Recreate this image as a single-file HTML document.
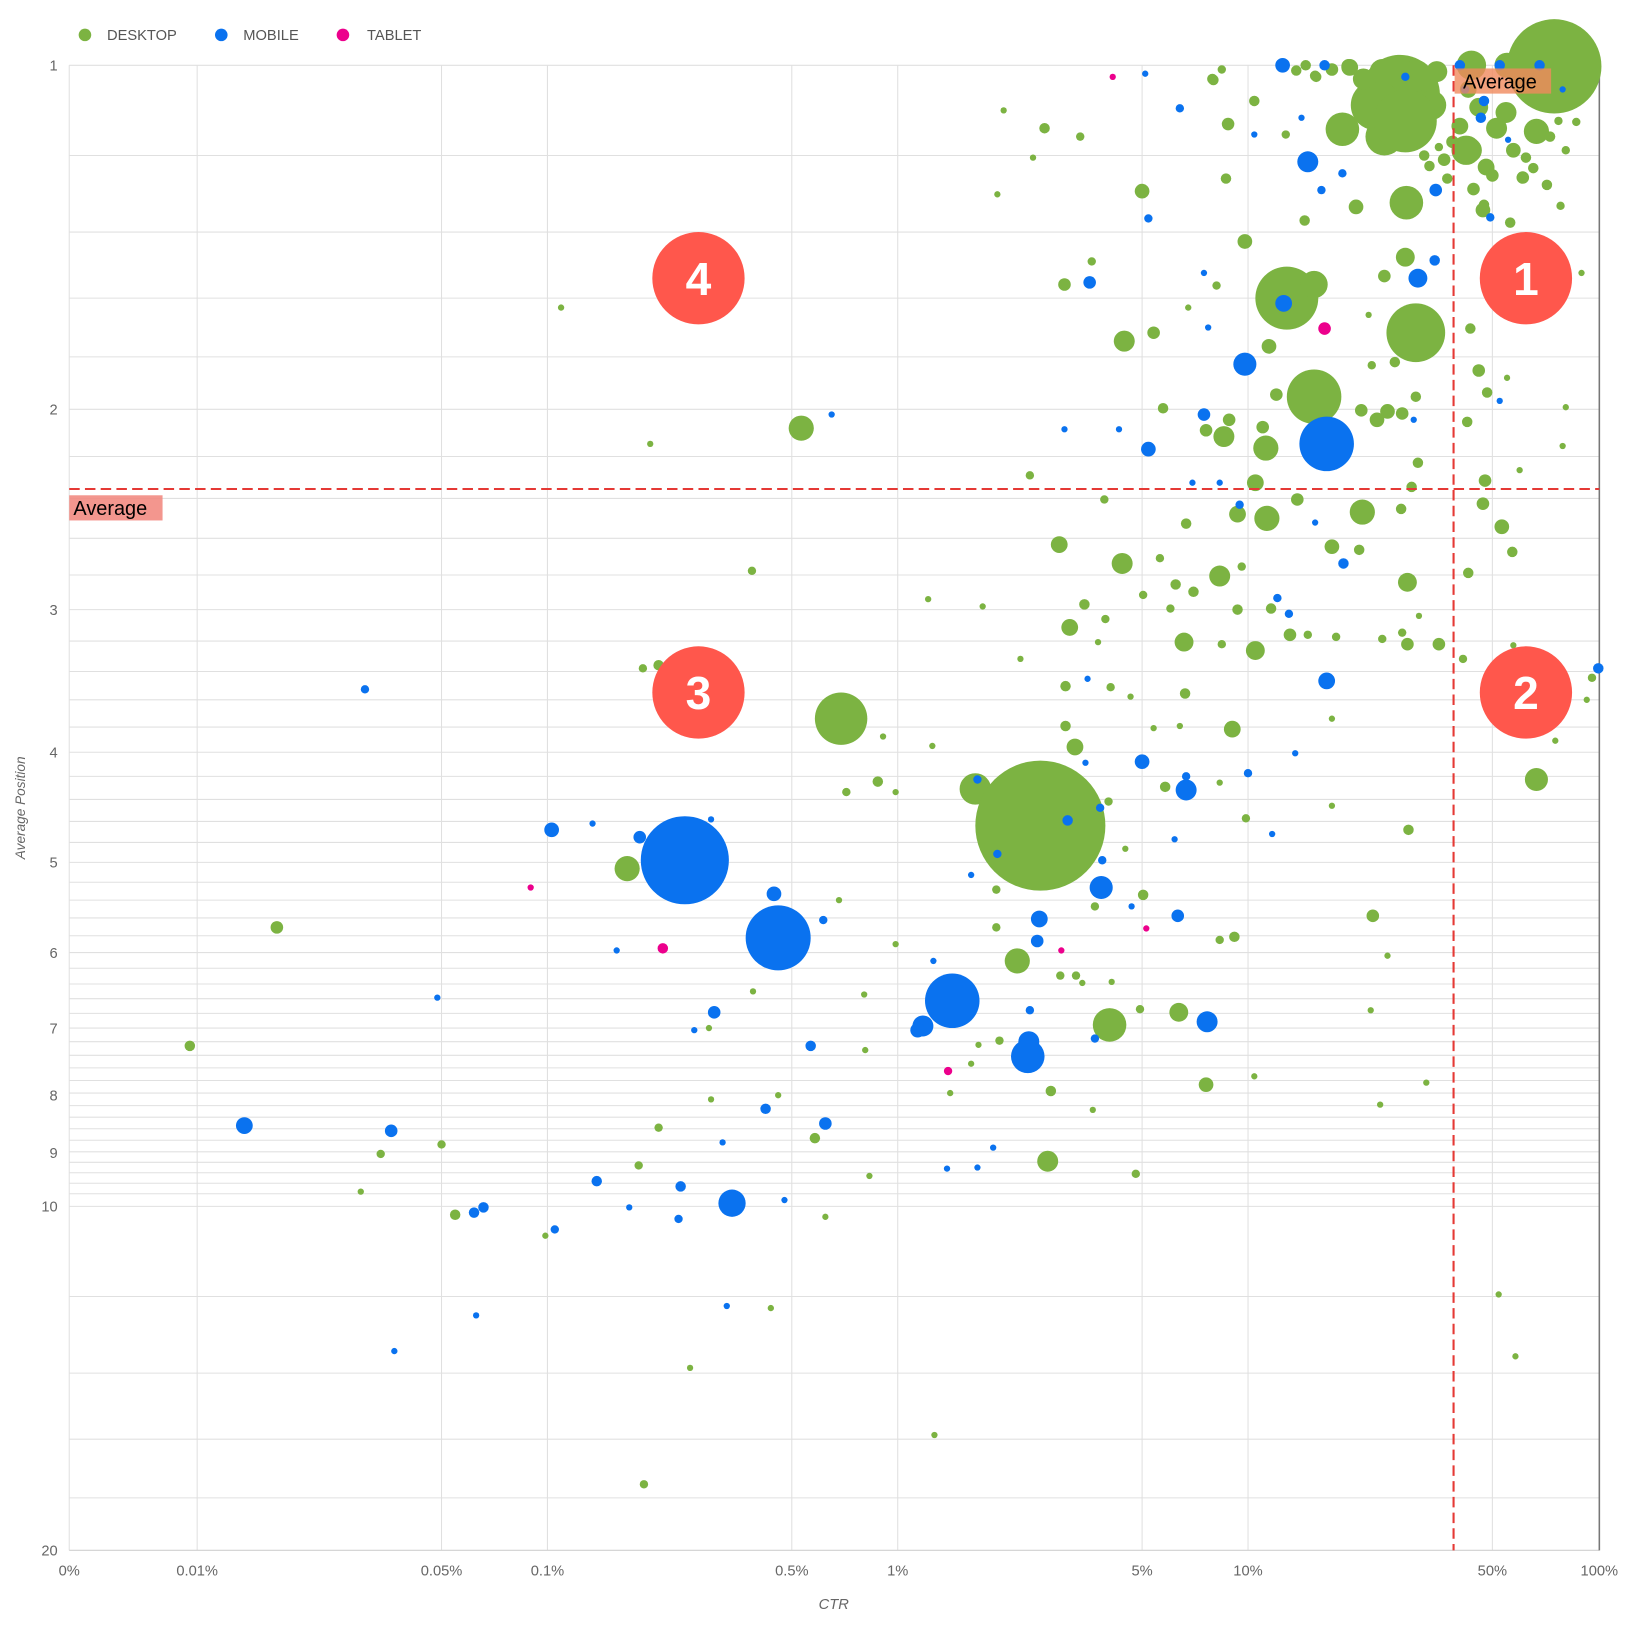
<!DOCTYPE html>
<html><head><meta charset="utf-8"><style>
html,body{margin:0;padding:0;background:#fff;}
svg{display:block;font-family:"Liberation Sans",sans-serif;}
</style></head><body>
<svg width="1635" height="1645" viewBox="0 0 1559 1568" xmlns="http://www.w3.org/2000/svg">
<rect width="1559" height="1568" fill="#fff"/>
<g stroke="#e0e0e0" stroke-width="1">
<line x1="188" y1="62" x2="188" y2="1478"/><line x1="421" y1="62" x2="421" y2="1478"/><line x1="522" y1="62" x2="522" y2="1478"/><line x1="755" y1="62" x2="755" y2="1478"/><line x1="856" y1="62" x2="856" y2="1478"/><line x1="1089" y1="62" x2="1089" y2="1478"/><line x1="1190" y1="62" x2="1190" y2="1478"/><line x1="1423" y1="62" x2="1423" y2="1478"/>
<line x1="66" y1="62" x2="66" y2="1478"/>
<line x1="66" y1="62" x2="1525" y2="62"/><line x1="66" y1="148" x2="1525" y2="148"/><line x1="66" y1="221" x2="1525" y2="221"/><line x1="66" y1="284" x2="1525" y2="284"/><line x1="66" y1="340" x2="1525" y2="340"/><line x1="66" y1="390" x2="1525" y2="390"/><line x1="66" y1="435" x2="1525" y2="435"/><line x1="66" y1="475" x2="1525" y2="475"/><line x1="66" y1="513" x2="1525" y2="513"/><line x1="66" y1="548" x2="1525" y2="548"/><line x1="66" y1="581" x2="1525" y2="581"/><line x1="66" y1="611" x2="1525" y2="611"/><line x1="66" y1="640" x2="1525" y2="640"/><line x1="66" y1="667" x2="1525" y2="667"/><line x1="66" y1="693" x2="1525" y2="693"/><line x1="66" y1="717" x2="1525" y2="717"/><line x1="66" y1="740" x2="1525" y2="740"/><line x1="66" y1="762" x2="1525" y2="762"/><line x1="66" y1="783" x2="1525" y2="783"/><line x1="66" y1="803" x2="1525" y2="803"/><line x1="66" y1="822" x2="1525" y2="822"/><line x1="66" y1="841" x2="1525" y2="841"/><line x1="66" y1="858" x2="1525" y2="858"/><line x1="66" y1="875" x2="1525" y2="875"/><line x1="66" y1="892" x2="1525" y2="892"/><line x1="66" y1="908" x2="1525" y2="908"/><line x1="66" y1="923" x2="1525" y2="923"/><line x1="66" y1="938" x2="1525" y2="938"/><line x1="66" y1="952" x2="1525" y2="952"/><line x1="66" y1="966" x2="1525" y2="966"/><line x1="66" y1="980" x2="1525" y2="980"/><line x1="66" y1="993" x2="1525" y2="993"/><line x1="66" y1="1006" x2="1525" y2="1006"/><line x1="66" y1="1018" x2="1525" y2="1018"/><line x1="66" y1="1030" x2="1525" y2="1030"/><line x1="66" y1="1042" x2="1525" y2="1042"/><line x1="66" y1="1054" x2="1525" y2="1054"/><line x1="66" y1="1065" x2="1525" y2="1065"/><line x1="66" y1="1076" x2="1525" y2="1076"/><line x1="66" y1="1087" x2="1525" y2="1087"/><line x1="66" y1="1098" x2="1525" y2="1098"/><line x1="66" y1="1108" x2="1525" y2="1108"/><line x1="66" y1="1118" x2="1525" y2="1118"/><line x1="66" y1="1128" x2="1525" y2="1128"/><line x1="66" y1="1138" x2="1525" y2="1138"/><line x1="66" y1="1150" x2="1525" y2="1150"/><line x1="66" y1="1236" x2="1525" y2="1236"/><line x1="66" y1="1309" x2="1525" y2="1309"/><line x1="66" y1="1372" x2="1525" y2="1372"/><line x1="66" y1="1428" x2="1525" y2="1428"/>
<line x1="66" y1="1478" x2="1525" y2="1478" stroke="#d0d0d0"/>
</g>
<line x1="1525" y1="62" x2="1525" y2="1478" stroke="#777" stroke-width="1.5"/>
<circle cx="81" cy="33" r="6" fill="#7cb342"/><text x="102" y="38" font-size="14" fill="#555">DESKTOP</text>
<circle cx="211" cy="33" r="6" fill="#0a72ef"/><text x="232" y="38" font-size="14" fill="#555">MOBILE</text>
<circle cx="327" cy="33" r="6" fill="#ec008c"/><text x="350" y="38" font-size="14" fill="#555">TABLET</text>
<g font-size="14" fill="#666" text-anchor="end">
<text x="55" y="67">1</text><text x="55" y="395">2</text><text x="55" y="586">3</text><text x="55" y="722">4</text><text x="55" y="827">5</text><text x="55" y="913">6</text><text x="55" y="985">7</text><text x="55" y="1049">8</text><text x="55" y="1104">9</text><text x="55" y="1155">10</text><text x="55" y="1483">20</text>
</g>
<g font-size="14" fill="#666" text-anchor="middle">
<text x="66" y="1502">0%</text><text x="188" y="1502">0.01%</text><text x="421" y="1502">0.05%</text><text x="522" y="1502">0.1%</text><text x="755" y="1502">0.5%</text><text x="856" y="1502">1%</text><text x="1089" y="1502">5%</text><text x="1190" y="1502">10%</text><text x="1423" y="1502">50%</text><text x="1525" y="1502">100%</text>
</g>
<text x="795" y="1534" font-size="14" font-style="italic" fill="#666" text-anchor="middle">CTR</text>
<text transform="translate(24,770) rotate(-90)" font-size="13" font-style="italic" fill="#666" text-anchor="middle">Average Position</text>
<g fill="#7cb342">
<circle cx="1482" cy="63" r="45"/><circle cx="1335" cy="90" r="38"/><circle cx="1350" cy="72" r="15"/><circle cx="1320" cy="130" r="18"/><circle cx="1348" cy="125" r="17"/><circle cx="1312" cy="100" r="24"/><circle cx="1365" cy="100" r="14"/><circle cx="1300" cy="75" r="10"/><circle cx="1340" cy="115" r="30"/><circle cx="1318" cy="68" r="12"/><circle cx="1370" cy="68" r="10"/>
<circle cx="1403" cy="62" r="14"/><circle cx="1437" cy="62" r="12"/><circle cx="1465" cy="125" r="12"/><circle cx="1280" cy="123" r="16"/><circle cx="1341" cy="193" r="16"/><circle cx="1398" cy="143" r="14"/><circle cx="1427" cy="122" r="10"/><circle cx="1410" cy="102" r="9"/><circle cx="1443" cy="143" r="7"/><circle cx="1418" cy="160" r="7"/><circle cx="1392" cy="120" r="8"/>
<circle cx="1436" cy="107" r="10"/><circle cx="1401" cy="143" r="12"/><circle cx="1452" cy="169" r="6"/><circle cx="1414" cy="200" r="7"/><circle cx="1417" cy="159" r="8"/><circle cx="1236" cy="67" r="5"/><circle cx="1255" cy="73" r="5"/><circle cx="1287" cy="64" r="8"/><circle cx="1157" cy="76" r="5"/><circle cx="1165" cy="66" r="4"/><circle cx="1245" cy="62" r="5"/><circle cx="1400" cy="85" r="8"/><circle cx="1385" cy="135" r="6"/><circle cx="1478" cy="130" r="5"/><circle cx="1455" cy="150" r="5"/><circle cx="1486" cy="115" r="4"/><circle cx="1470" cy="90" r="6"/><circle cx="1358" cy="148" r="5"/><circle cx="1372" cy="140" r="4"/>
<circle cx="1227" cy="284" r="30"/><circle cx="1253" cy="271" r="13"/><circle cx="1350" cy="317" r="28"/><circle cx="1253" cy="378" r="26"/><circle cx="1207" cy="427" r="12"/><circle cx="1167" cy="416" r="10"/><circle cx="1208" cy="494" r="12"/><circle cx="1299" cy="488" r="12"/><circle cx="1342" cy="555" r="9"/><circle cx="1163" cy="549" r="10"/><circle cx="1129" cy="612" r="9"/><circle cx="1197" cy="620" r="9"/>
<circle cx="1070" cy="537" r="10"/><circle cx="1072" cy="325" r="10"/><circle cx="1089" cy="182" r="7"/><circle cx="1187" cy="230" r="7"/><circle cx="1015" cy="271" r="6"/><circle cx="764" cy="408" r="12"/><circle cx="1010" cy="519" r="8"/><circle cx="1020" cy="598" r="8"/><circle cx="1025" cy="712" r="8"/><circle cx="1175" cy="695" r="8"/><circle cx="1465" cy="743" r="11"/><circle cx="1343" cy="791" r="5"/><circle cx="930" cy="752" r="15"/><circle cx="992" cy="787" r="62"/><circle cx="598" cy="828" r="12"/><circle cx="802" cy="685" r="25"/><circle cx="970" cy="916" r="12"/><circle cx="1058" cy="977" r="16"/><circle cx="1124" cy="965" r="9"/><circle cx="999" cy="1107" r="10"/><circle cx="1150" cy="1034" r="7"/><circle cx="1309" cy="873" r="6"/><circle cx="1342" cy="614" r="6"/>
<circle cx="1340" cy="245" r="9"/><circle cx="1320" cy="263" r="6"/><circle cx="1293" cy="197" r="7"/><circle cx="1244" cy="210" r="5"/><circle cx="1210" cy="330" r="7"/><circle cx="1217" cy="376" r="6"/><circle cx="1204" cy="407" r="6"/><circle cx="1172" cy="400" r="6"/><circle cx="1150" cy="410" r="6"/><circle cx="1197" cy="460" r="8"/><circle cx="1180" cy="490" r="8"/><circle cx="1237" cy="476" r="6"/><circle cx="1270" cy="521" r="7"/><circle cx="1296" cy="524" r="5"/><circle cx="1313" cy="400" r="7"/><circle cx="1323" cy="392" r="7"/><circle cx="1337" cy="394" r="6"/><circle cx="1350" cy="378" r="5"/><circle cx="1298" cy="391" r="6"/><circle cx="1109" cy="389" r="5"/><circle cx="1100" cy="317" r="6"/><circle cx="1041" cy="249" r="4"/><circle cx="1169" cy="170" r="5"/><circle cx="1171" cy="118" r="6"/><circle cx="1196" cy="96" r="5"/><circle cx="1226" cy="128" r="4"/><circle cx="1254" cy="72" r="5"/><circle cx="1270" cy="66" r="6"/><circle cx="1286" cy="63" r="7"/><circle cx="1156" cy="75" r="5"/><circle cx="1133" cy="293" r="3"/><circle cx="1160" cy="272" r="4"/><circle cx="1131" cy="499" r="5"/><circle cx="1138" cy="564" r="5"/><circle cx="1180" cy="581" r="5"/><circle cx="1184" cy="540" r="4"/><circle cx="1130" cy="661" r="5"/><circle cx="1165" cy="614" r="4"/><circle cx="1212" cy="580" r="5"/><circle cx="1230" cy="605" r="6"/><circle cx="1247" cy="605" r="4"/><circle cx="1274" cy="607" r="4"/><circle cx="1318" cy="609" r="4"/><circle cx="1337" cy="603" r="4"/><circle cx="1372" cy="614" r="6"/><circle cx="1353" cy="587" r="3"/><circle cx="1402" cy="313" r="5"/><circle cx="1410" cy="353" r="6"/><circle cx="1418" cy="374" r="5"/><circle cx="1399" cy="402" r="5"/><circle cx="1416" cy="458" r="6"/><circle cx="1414" cy="480" r="6"/><circle cx="1432" cy="502" r="7"/><circle cx="1442" cy="526" r="5"/><circle cx="1400" cy="546" r="5"/><circle cx="1395" cy="628" r="4"/><circle cx="1352" cy="441" r="5"/><circle cx="1336" cy="485" r="5"/><circle cx="1346" cy="464" r="5"/><circle cx="1330" cy="345" r="5"/><circle cx="1308" cy="348" r="4"/><circle cx="1305" cy="300" r="3"/><circle cx="1377" cy="152" r="6"/><circle cx="1363" cy="158" r="5"/><circle cx="1380" cy="170" r="5"/><circle cx="1405" cy="180" r="6"/><circle cx="1423" cy="167" r="6"/><circle cx="1462" cy="160" r="5"/><circle cx="1475" cy="176" r="5"/><circle cx="1488" cy="196" r="4"/><circle cx="1440" cy="212" r="5"/><circle cx="1415" cy="195" r="5"/><circle cx="1503" cy="116" r="4"/><circle cx="1493" cy="143" r="4"/><circle cx="1508" cy="260" r="3"/><circle cx="1437" cy="360" r="3"/><circle cx="1493" cy="388" r="3"/><circle cx="1490" cy="425" r="3"/><circle cx="1449" cy="448" r="3"/><circle cx="1443" cy="615" r="3"/><circle cx="1270" cy="685" r="3"/><circle cx="1270" cy="768" r="3"/><circle cx="1188" cy="780" r="4"/><circle cx="1163" cy="746" r="3"/><circle cx="1111" cy="750" r="5"/><circle cx="1057" cy="764" r="4"/><circle cx="1073" cy="809" r="3"/><circle cx="1090" cy="853" r="5"/><circle cx="1044" cy="864" r="4"/><circle cx="1087" cy="962" r="4"/><circle cx="1177" cy="893" r="5"/><circle cx="1163" cy="896" r="4"/><circle cx="1323" cy="911" r="3"/><circle cx="1307" cy="963" r="3"/>
<circle cx="535" cy="293" r="3"/><circle cx="620" cy="423" r="3"/><circle cx="717" cy="544" r="4"/><circle cx="264" cy="884" r="6"/><circle cx="181" cy="997" r="5"/><circle cx="363" cy="1100" r="4"/><circle cx="344" cy="1136" r="3"/><circle cx="421" cy="1091" r="4"/><circle cx="434" cy="1158" r="5"/><circle cx="520" cy="1178" r="3"/><circle cx="609" cy="1111" r="4"/><circle cx="628" cy="1075" r="4"/><circle cx="678" cy="1048" r="3"/><circle cx="676" cy="980" r="3"/><circle cx="658" cy="1304" r="3"/><circle cx="614" cy="1415" r="4"/><circle cx="891" cy="1368" r="3"/><circle cx="735" cy="1247" r="3"/><circle cx="787" cy="1160" r="3"/><circle cx="829" cy="1121" r="3"/><circle cx="777" cy="1085" r="5"/><circle cx="742" cy="1044" r="3"/><circle cx="718" cy="945" r="3"/><circle cx="824" cy="948" r="3"/><circle cx="825" cy="1001" r="3"/><circle cx="807" cy="755" r="4"/><circle cx="837" cy="745" r="5"/><circle cx="854" cy="755" r="3"/><circle cx="842" cy="702" r="3"/><circle cx="889" cy="711" r="3"/><circle cx="885" cy="571" r="3"/><circle cx="937" cy="578" r="3"/><circle cx="973" cy="628" r="3"/><circle cx="982" cy="453" r="4"/><circle cx="985" cy="150" r="3"/><circle cx="951" cy="185" r="3"/><circle cx="957" cy="105" r="3"/><circle cx="996" cy="122" r="5"/><circle cx="1030" cy="130" r="4"/><circle cx="1429" cy="1234" r="3"/><circle cx="1445" cy="1293" r="3"/><circle cx="1513" cy="667" r="3"/><circle cx="1518" cy="646" r="4"/><circle cx="1483" cy="706" r="3"/><circle cx="1360" cy="1032" r="3"/><circle cx="1316" cy="1053" r="3"/><circle cx="1196" cy="1026" r="3"/><circle cx="1083" cy="1119" r="4"/><circle cx="1042" cy="1058" r="3"/><circle cx="1002" cy="1040" r="5"/><circle cx="926" cy="1014" r="3"/><circle cx="906" cy="1042" r="3"/><circle cx="613" cy="637" r="4"/><circle cx="628" cy="634" r="5"/><circle cx="800" cy="858" r="3"/><circle cx="854" cy="900" r="3"/><circle cx="950" cy="884" r="4"/><circle cx="950" cy="848" r="4"/><circle cx="953" cy="992" r="4"/><circle cx="933" cy="996" r="3"/><circle cx="1011" cy="930" r="4"/><circle cx="1026" cy="930" r="4"/><circle cx="1032" cy="937" r="3"/><circle cx="1060" cy="936" r="3"/><circle cx="1016" cy="654" r="5"/><circle cx="1016" cy="692" r="5"/><circle cx="1034" cy="576" r="5"/><circle cx="1054" cy="590" r="4"/><circle cx="1047" cy="612" r="3"/><circle cx="1059" cy="655" r="4"/><circle cx="1078" cy="664" r="3"/><circle cx="1100" cy="694" r="3"/><circle cx="1125" cy="692" r="3"/><circle cx="1106" cy="532" r="4"/><circle cx="1053" cy="476" r="4"/><circle cx="1121" cy="557" r="5"/><circle cx="1090" cy="567" r="4"/><circle cx="1116" cy="580" r="4"/>
</g>
<g fill="#0a72ef">
<circle cx="653" cy="820" r="42"/><circle cx="742" cy="894" r="31"/><circle cx="908" cy="954" r="26"/><circle cx="1265" cy="423" r="26"/><circle cx="1187" cy="347" r="11"/><circle cx="1247" cy="154" r="10"/><circle cx="1223" cy="62" r="7"/><circle cx="1352" cy="265" r="9"/><circle cx="1224" cy="289" r="8"/><circle cx="1265" cy="649" r="8"/><circle cx="1095" cy="428" r="7"/><circle cx="1039" cy="269" r="6"/><circle cx="880" cy="978" r="10"/><circle cx="875" cy="982" r="7"/><circle cx="1050" cy="846" r="11"/><circle cx="1131" cy="753" r="10"/><circle cx="1089" cy="726" r="7"/><circle cx="1151" cy="974" r="10"/><circle cx="981" cy="993" r="10"/><circle cx="980" cy="1007" r="16"/><circle cx="698" cy="1147" r="13"/><circle cx="233" cy="1073" r="8"/><circle cx="373" cy="1078" r="6"/>
<circle cx="348" cy="657" r="4"/><circle cx="417" cy="951" r="3"/><circle cx="376" cy="1288" r="3"/><circle cx="454" cy="1254" r="3"/><circle cx="526" cy="791" r="7"/><circle cx="565" cy="785" r="3"/><circle cx="610" cy="798" r="6"/><circle cx="678" cy="781" r="3"/><circle cx="588" cy="906" r="3"/><circle cx="662" cy="982" r="3"/><circle cx="681" cy="965" r="6"/><circle cx="773" cy="997" r="5"/><circle cx="787" cy="1071" r="6"/><circle cx="730" cy="1057" r="5"/><circle cx="738" cy="852" r="7"/><circle cx="785" cy="877" r="4"/><circle cx="748" cy="1144" r="3"/><circle cx="693" cy="1245" r="3"/><circle cx="689" cy="1089" r="3"/><circle cx="647" cy="1162" r="4"/><circle cx="649" cy="1131" r="5"/><circle cx="600" cy="1151" r="3"/><circle cx="569" cy="1126" r="5"/><circle cx="529" cy="1172" r="4"/><circle cx="461" cy="1151" r="5"/><circle cx="452" cy="1156" r="5"/><circle cx="793" cy="395" r="3"/><circle cx="1015" cy="409" r="3"/><circle cx="1067" cy="409" r="3"/><circle cx="1095" cy="208" r="4"/><circle cx="1125" cy="103" r="4"/><circle cx="1092" cy="70" r="3"/><circle cx="926" cy="834" r="3"/><circle cx="951" cy="814" r="4"/><circle cx="989" cy="897" r="6"/><circle cx="991" cy="876" r="8"/><circle cx="1018" cy="782" r="5"/><circle cx="1049" cy="770" r="4"/><circle cx="1035" cy="727" r="3"/><circle cx="1051" cy="820" r="4"/><circle cx="1079" cy="864" r="3"/><circle cx="1123" cy="873" r="6"/><circle cx="1037" cy="647" r="3"/><circle cx="1190" cy="737" r="4"/><circle cx="1213" cy="795" r="3"/><circle cx="1120" cy="800" r="3"/><circle cx="1131" cy="740" r="4"/><circle cx="1235" cy="718" r="3"/><circle cx="1229" cy="585" r="4"/><circle cx="1218" cy="570" r="4"/><circle cx="1254" cy="498" r="3"/><circle cx="1281" cy="537" r="5"/><circle cx="1148" cy="395" r="6"/><circle cx="1148" cy="260" r="3"/><circle cx="1152" cy="312" r="3"/><circle cx="1241" cy="112" r="3"/><circle cx="1260" cy="181" r="4"/><circle cx="1280" cy="165" r="4"/><circle cx="1369" cy="181" r="6"/><circle cx="1368" cy="248" r="5"/><circle cx="1415" cy="96" r="5"/><circle cx="1421" cy="207" r="4"/><circle cx="1392" cy="62" r="5"/><circle cx="1524" cy="637" r="5"/><circle cx="1044" cy="990" r="4"/><circle cx="890" cy="916" r="3"/><circle cx="932" cy="1113" r="3"/><circle cx="903" cy="1114" r="3"/><circle cx="947" cy="1094" r="3"/><circle cx="932" cy="743" r="4"/><circle cx="982" cy="963" r="4"/><circle cx="1263" cy="62" r="5"/><circle cx="1196" cy="128" r="3"/><circle cx="1182" cy="481" r="4"/><circle cx="1137" cy="460" r="3"/><circle cx="1163" cy="460" r="3"/><circle cx="1397" cy="85" r="4"/><circle cx="1430" cy="382" r="3"/><circle cx="1438" cy="133" r="3"/><circle cx="1348" cy="400" r="3"/><circle cx="1340" cy="73" r="4"/><circle cx="1430" cy="62" r="5"/><circle cx="1468" cy="62" r="5"/><circle cx="1412" cy="112" r="5"/><circle cx="1490" cy="85" r="3"/>
</g>
<g fill="#ec008c">
<circle cx="1263" cy="313" r="6"/><circle cx="632" cy="904" r="5"/><circle cx="904" cy="1021" r="4"/><circle cx="1012" cy="906" r="3"/><circle cx="1093" cy="885" r="3"/><circle cx="506" cy="846" r="3"/><circle cx="1061" cy="73" r="3"/>
</g>
<line x1="66" y1="466" x2="1525" y2="466" stroke="#e53935" stroke-width="2" stroke-dasharray="10,5"/>
<line x1="1386" y1="62" x2="1386" y2="1478" stroke="#e53935" stroke-width="2" stroke-dasharray="10,5"/>
<rect x="66" y="472" width="89" height="24" fill="#f28b82" opacity="0.9"/>
<text x="70" y="491" font-size="19" fill="#000">Average</text>
<rect x="1387" y="65" width="92" height="24" fill="#f08a5d" opacity="0.8"/>
<text x="1395" y="84" font-size="19" fill="#000">Average</text>
<g font-size="44" font-weight="bold" fill="#fff" text-anchor="middle">
<circle cx="1455" cy="265" r="44" fill="#ff574c"/><text x="1455" y="281">1</text>
<circle cx="1455" cy="660" r="44" fill="#ff574c"/><text x="1455" y="676">2</text>
<circle cx="666" cy="660" r="44" fill="#ff574c"/><text x="666" y="676">3</text>
<circle cx="666" cy="265" r="44" fill="#ff574c"/><text x="666" y="281">4</text>
</g>
</svg>
</body></html>
